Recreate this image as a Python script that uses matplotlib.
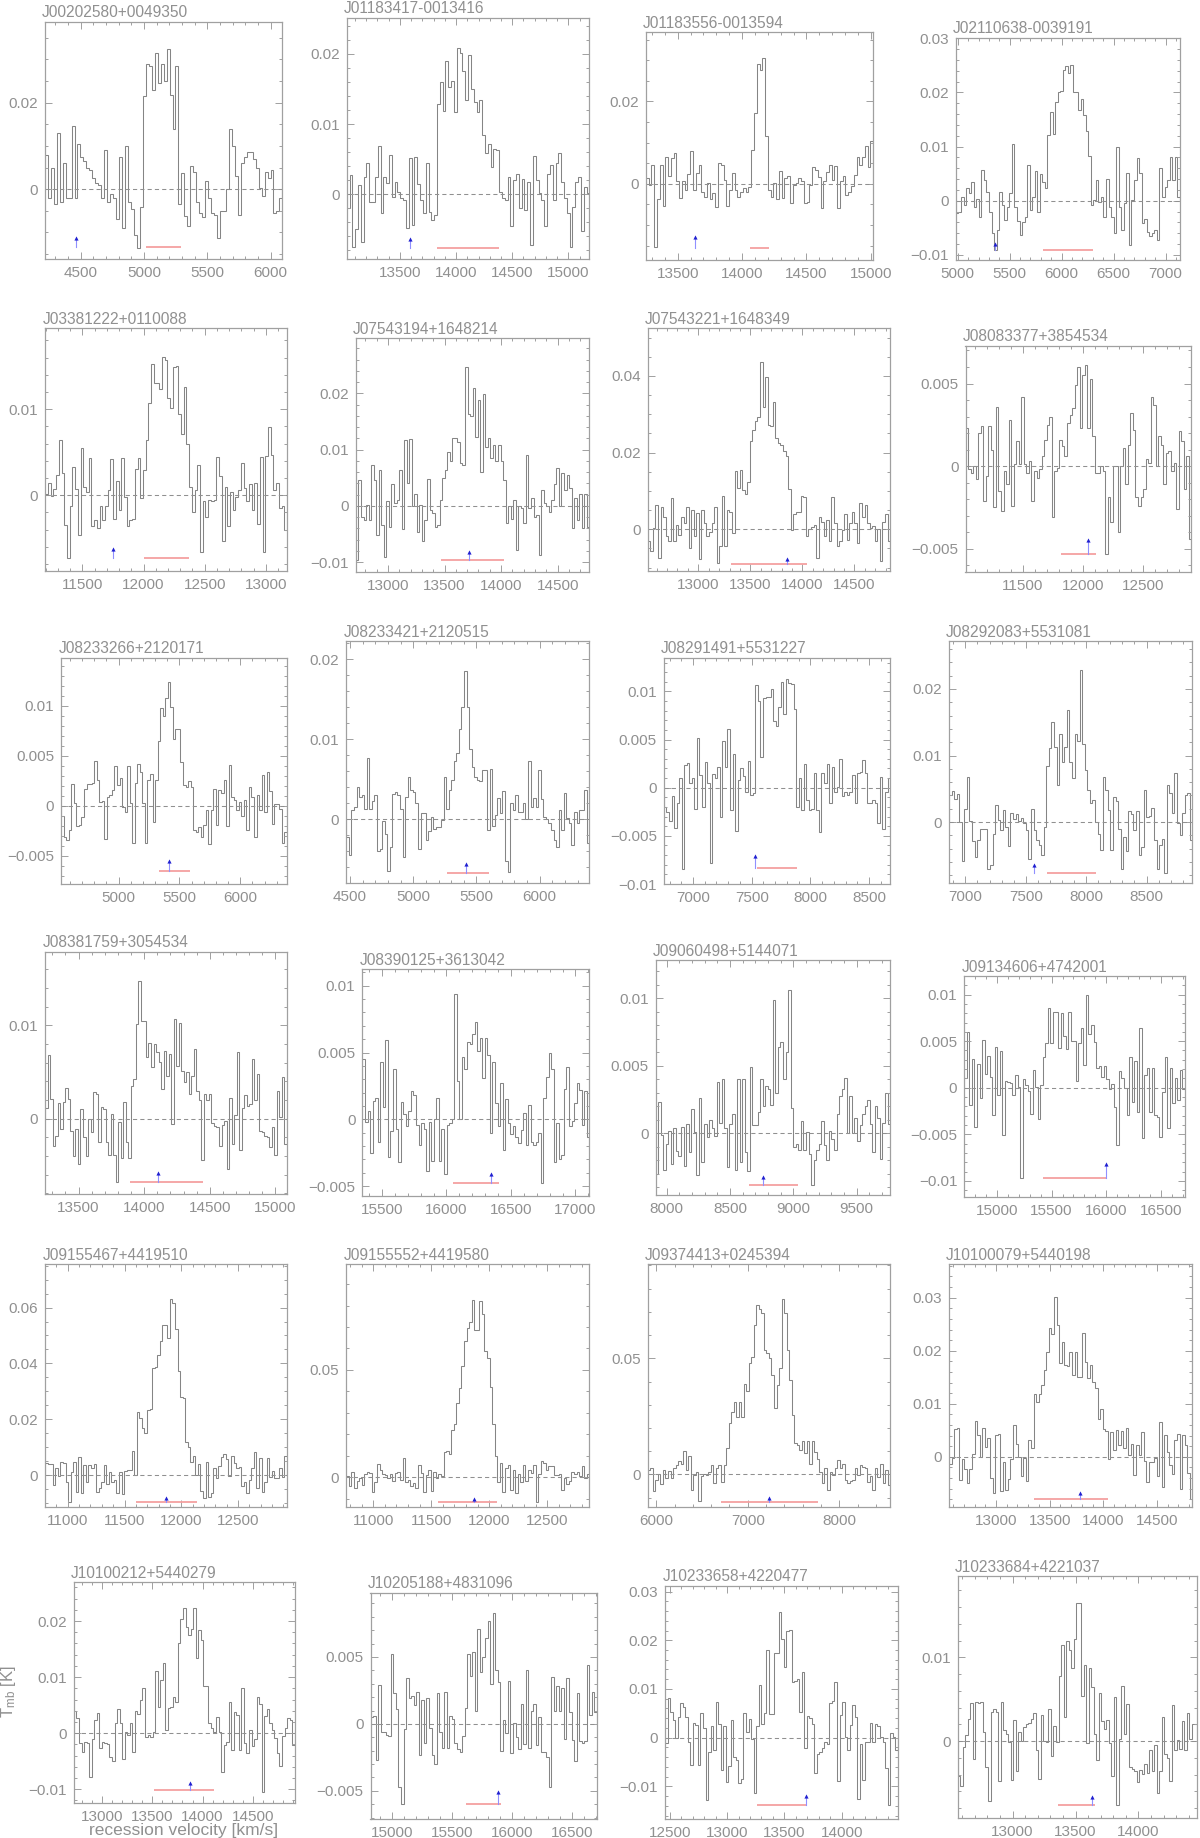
import numpy as np
import matplotlib
matplotlib.use('Agg')
import matplotlib.pyplot as plt
from matplotlib.ticker import MultipleLocator, FuncFormatter

# ---------------- data ----------------
names = ['J00202580+0049350', 'J01183417-0013416', 'J01183556-0013594', 'J02110638-0039191',
         'J03381222+0110088', 'J07543194+1648214', 'J07543221+1648349', 'J08083377+3854534',
         'J08233266+2120171', 'J08233421+2120515', 'J08291491+5531227', 'J08292083+5531081',
         'J08381759+3054534', 'J08390125+3613042', 'J09060498+5144071', 'J09134606+4742001',
         'J09155467+4419510', 'J09155552+4419580', 'J09374413+0245394', 'J10100079+5440198',
         'J10100212+5440279', 'J10205188+4831096', 'J10233658+4220477', 'J10233684+4221037']

# velocity range covered by each spectrum [km/s]
vel_lo = [4216, 13026, 13253, 4982, 11197, 12716, 12515, 11021, 4528, 4470, 6752, 6864,
          13246, 15348, 7911, 14703, 10801, 10769, 5908, 12561, 12723, 14818, 12460, 12565]
vel_hi = [6094, 15187, 15018, 7137, 13172, 14781, 14842, 12906, 6384, 6394, 8679, 8880,
          15088, 17108, 9764, 16717, 12932, 12863, 8556, 14832, 14914, 16707, 14487, 14465]

# T_mb per channel [mK]
spec01 = [8, -2, 5, -3.5, 13, -3, 6, -2, -2, 14.5, -2, 10.5, 7.5, 6.5, 5, 4.5, 2.5, 1.5, 1, -2,
          9, -3, -1, -2, -7, 7.5, -9, 10, -3, -4.5, -10.5, -13.5, -4, 21.5, 29, 28.5, 23, 31.5, 24.5, 29,
          25, 32.5, 21.8, 14, 28.5, -3.4, 3.7, -6.3, -8.5, 5.4, 4, -3, -5.5, -6.5, 2, -2, -5.5, -6, -11.3, -5,
          -5, 0, 14, 10, 3, -6, 6, 7.5, 8.5, 8.5, 7, 5, 0.3, -1.5, 4, 2.5, 4.5, -5.5, -5, -2]
spec02 = [-2, 2.7, -7.6, -5, 1.3, -6.8, 2.5, 4.4, -1.1, -1.1, 2.5, 6.9, -2.7, 2.5, 1.6, 5.6, -0.4, 1.7, 0.3, -0.6,
          -0.9, -4.9, 5.1, -4.4, 5.3, 1.5, -0.9, -2.7, 4.4, -2.5, -3.7, -3, 12.8, 16, 11.9, 19, 15.3, 16.2, 11.7, 20.9,
          20.2, 17.6, 13.4, 19.8, 15, 13.1, 11.7, 13.4, 8.5, 5.8, 7.1, 3.9, 6.5, 6.3, 0.3, -0.6, -0.8, 2.5, -4.6, 2,
          2.9, -2, 2.2, -2.3, 1.8, -7.3, 5.5, 2, 0.1, -0.9, -4.6, 2.9, 4.1, -0.9, 4.4, 5.8, 1.8, -0.6, -2.7, -7.6,
          -1.8, 1.8, 2.5, -5.2, 1, 0.1]
spec03 = [1.4, -0.2, 4.5, -15.4, -3.7, 4.5, -5.5, 6.5, 1.8, 6.2, 7.6, 0.6, -3.5, 0.6, -1.5, 2.3, 7.9, -1.5, 2.6, 4.6,
          -1.9, -3.1, 0.2, -3.7, -2.3, -5.7, 5, 4.6, 1, -5.5, -1.5, 2.6, -1.5, -3.2, -2.1, -1.1, -1.9, -0.8, 8.3, 17.2,
          29.1, 27.7, 30.5, 11.7, -1.6, -3.2, 0.2, -3.7, 3, -3.5, 1.4, 1.8, -4.7, -0.2, 0.2, 1.4, 0.6, -4.7, -4.5, -0.4,
          4.2, 3.4, 1.6, -5.9, 0.8, 2.8, 4.6, 1, 4.4, -5.9, 0.6, 1.8, -2.7, -1.9, -0.6, 2.2, 6.6, 4.6, 6.6, 9.1,
          4.2, 10.3]
spec04 = [-2.3, -2, 0.7, -0.8, 2.3, 1.4, 3.5, -1.1, 0.4, -3, 5.7, 3.8, 1.7, -2, -6, -9.1, -5.4, 1.7, -0.8, -3.6,
          -1.1, 1.4, 10.5, -1.1, -3.7, -6.3, -3.9, -3, 6.6, -1.8, 0.7, 5.4, -2, 4.9, 3.5, 2.3, 12.1, 16.3, 12.4, 18.3,
          20, 20.3, 24.2, 24.8, 23.5, 25.1, 20.1, 20.1, 16.8, 18.7, 15.8, 12.8, 8.3, -0.8, 0.1, 3.8, -0.2, 0.7, -3, 4.1,
          -1.1, -3, -6, 10, -1.1, -5.4, -0.4, 5.2, -8.2, 0.1, 3.8, 7.8, 5.1, -4.1, -3.3, -5.7, -6.5, -6, -5.4, -7.3,
          6, 0.7, 2.6, 3.9, 8.1, 3.8, 8.1, 0.7]
spec05 = [0.2, 1.4, -0.1, 0.7, 2.4, 6.4, 2.6, -3.4, -7.3, -1.3, 3.3, 0.7, -4.6, 5.5, 1, 0.4, 4.3, -3.6, -2.9, -3.8,
          -1.3, -2.9, -1.3, 0.6, 4.2, -2.8, 1.6, -1.7, 4.3, -0.2, -3.6, -2.9, -2.7, 3.1, 4.3, -0.3, 2.9, 6.4, 10.7, 15.2,
          13, 13, 12.3, 16.1, 15.7, 11.3, 10.1, 14.9, 15, 9.5, 7.1, 12.6, 5.9, 1, -1.9, 0.6, 3.5, -6.6, -0.7, -2.5,
          -0.6, -0.7, -0.5, 4.5, 2.2, -5.3, 1, -3.6, 0.4, -1.7, -0.2, 0.6, 3.7, 0.8, -0.7, 1.3, -1.7, 1.4, -3.3, 4.4,
          -6.6, 4.6, 7.9, 4.7, 0.6, 1.4, -1.5, -1.3, -4]
spec06 = [-9.6, 4.6, -1.9, -2.5, 0.2, -2.5, 7.3, 4.6, -5.1, 6.3, -3.4, -9, 0.8, -3.7, 3.9, 0.5, 1.1, 6.4, -4.1, 11.7,
          4, 11.9, -0.1, 2.2, -4.6, 0.2, -6.2, -2.5, 4.8, -0.7, -1.3, -3.8, -3.4, 1.1, 4.9, 6.3, 9.5, 7.9, 12, 12,
          11.4, 7.6, 7.3, 24.7, 16.4, 15.9, 20.9, 12.3, 18.8, 6.1, 19.9, 10.5, 12, 8.6, 10.8, 8, 10.8, 8, 4.6, -3.1,
          -0.1, -2.4, 1.1, -7.8, -0.1, -0.4, -3.1, 9.1, -0.4, 1.4, -1.9, -1.6, -8.7, 2.8, 0.5, -0.1, -1, 1.1, 3.9, 6.7,
          -0.1, 5.8, 2.8, 5.5, 3.1, -4, 1.4, -2.5, 2.2, -4, 2.1, -3.7]
spec07 = [-3, -5.6, 0.3, 6.3, -7.6, 5.9, 3.3, -1.9, -3, 8.1, -3.2, 1.1, -1.5, 3.3, 1.6, 5.7, -5, 5, -1.9, 4.3,
          -7.7, 5, 1.6, -1.9, -0.6, 1.6, 5.9, -8.9, -4.3, 8.7, -4.5, 5, 4.6, -0.9, 15.3, 10.7, 15.5, 10.3, 9.2, 12.4,
          22.9, 25.9, 28.1, 29.2, 43.7, 32, 39.7, 27.2, 26.8, 33.3, 23.7, 22.6, 22, 20.3, 19.1, 10.4, -0.2, 4, 4.6, 4.6,
          8.7, 8.3, -1.9, 0, 0.5, 1.1, -7.6, 3.3, 2, -1.9, 2.4, -3, 8.5, 1.6, -4.5, -3, -0.2, 4, -2.8, 1.6,
          4.6, 1.6, -3.5, 6.8, 3.3, 6.3, 1.6, 0.3, 0.9, -3.2, 0, -8.4, 2, 4, -3.2]
spec08 = [2.3, -0.2, -0.4, 0, -0.8, 2, 2.4, -2.1, -0.6, 2.4, 1, -2.5, 3.6, -1.5, -2.7, -0.3, -1.1, 2.8, -2.4, 0.1,
          1.5, 0.1, 4.2, 0.1, -0.4, 0.3, -2.1, -0.3, -0.7, -0.2, 0.6, 1.6, 2.5, 3, -3.1, -0.3, -0.1, 1.6, 1.2, 0.6,
          2.6, 3.1, 3.5, 4.9, 6, 2.3, 5.5, 6.1, 2.3, 5.3, 1.8, -0.4, -0.4, 0, -0.3, -5.3, -1.9, -3.4, 0, 0,
          -4, 0, 1.1, -1.1, 1.3, 3.2, 2.2, -1.9, -2.4, -1.9, -1.4, 0.4, 0.2, 4.2, 3.7, 0, 1.8, 1.3, -1.1, 0.8,
          0.9, -0.3, 0.2, -2.6, 2.1, 1.5, -1.4, 0.6, -4.4]
spec09 = [-1, -3.1, -3.4, -2.4, 2.2, 0.3, -2, -1.9, -1.1, 1.7, 2.2, 2.2, 2.3, 4.5, 2.6, 0.4, 0.5, -3.3, 0.9, 1.1,
          1.6, 4, 2.1, 2.8, -0.1, -0.6, 4, 0.3, -3.7, 2.3, 4.2, 3.4, 0.3, -3.7, 2.6, 3.2, -1.6, 2.6, 6.5, 9.8,
          9, 10.8, 12.4, 9.9, 6.7, 7.7, 7.7, 4.4, 2.1, 1.9, 2.5, 1.9, -2.4, -2.6, -2.1, -3.1, -1.9, -0.4, -3.8, -0.4,
          1.7, -1.9, 1.6, 1.3, 2.6, -2, 4.1, 0.9, 0.6, -0.4, 0.4, -1, 0.6, -2.4, 1.9, 0.9, -3.1, 1.1, -0.4, 3.1,
          -0.6, 3.4, 1.5, -1.8, 0.2, 0.2, -0.3, -3.7, -2.6]
spec10 = [-2.2, -4.5, 1.1, 1.5, 4, 2.8, 3, 1.3, 7.6, 1.3, 2.2, 3, -4, -3.8, -0.3, -1.9, -6.5, -3.5, 3.1, 3.4,
          3, 1.2, -4.7, 2.8, 5.3, 3.6, 3.4, 2, -3.8, 0.8, 0.7, -2.6, -1.5, 0.3, -1.3, -1, -1, -0.1, 5.3, 1.3,
          3.6, 4.9, 7.3, 8.3, 11.3, 14, 18.5, 14, 8.8, 6.5, 5.3, 4.9, 4.7, 6.1, 6.1, -1.4, 6.3, -0.9, 0.5, 2.6,
          0.8, 3.5, -5.2, -6.6, 2, 1.1, 3, 0.9, 0.9, 2, 0, 7.2, 1.5, 2.6, 1.5, 6.1, 2.5, 0.3, 0, -0.5,
          -1.4, -2.6, -3.5, 1.1, -1.4, 3.2, 0.1, -0.5, -3.3, 0.9, -0.5, 1.1, 1.1, 3.6, -3]
spec11 = [-2, -2.5, -3.5, -0.9, -4.2, -1.6, 1, -8.4, 2.4, 2.6, 0.5, 1, -2.2, 5.2, 1.3, -2, 2.7, 0.5, -7.8, 1.4,
          1, 2.2, -3, 4.8, 2.2, 6.1, -2.3, 3.5, -4.5, 0.8, 2, 1.2, -0.4, 2.8, -0.8, -0.6, 10.7, 9, 3.2, 9.3,
          9.4, 9.4, 10.2, 6.9, 6.4, 8.4, 11, 7.7, 11.3, 10.9, 10.8, 8.2, -2, 1, -2.3, 2.5, -1.3, -2.3, -2.2, 1.5,
          -2.3, -4.6, 1.5, 0.5, 2.5, -1.6, 2.2, -0.4, 0.1, 3, -0.9, -0.4, -0.8, -0.4, 1.3, -1.6, 1.5, 1.6, 2.9, 1.5,
          -1.6, -1.6, -1.3, -1.6, -3.7, 1.1, -4.3, -0.4, 1]
spec12 = [4.1, 4.6, 3.4, 4.2, 0, -5.8, 1.9, 6.7, 0.2, -2.8, -5.3, -2.7, -1, -1, -1, -7.1, -6.5, -1.8, 2.6, 0.3,
          -1.2, 1.8, -0.7, -3.6, 1.3, 0.4, 1.2, 0.2, 0.6, -0.2, -1.2, -5.6, 1.9, -1.2, -2.7, -3.5, -5, -0.7, 8.4, 11.2,
          15.1, 11.3, 5.6, 13.3, 9.1, 11.3, 16.9, 9.1, 6.6, 13.2, 12.2, 22.9, 11.7, 7.8, 4.8, 2.8, 3.3, 0, -1.8, -4.2,
          6.8, 4.8, 1.8, -4.2, 3.8, 3.2, -1, -7, -2.2, -4.3, 1.6, 1.2, -1.2, 1.6, -5, -3.8, 4.8, 0.8, 0.9, 2.1,
          -2.7, -7.1, -3.5, -2.5, -7.6, 5.6, 4.3, 1.3, 7.4, -0.2, -2, 1.4, 4.1, 4.3, -2.7]
spec13 = [1.1, 6.8, 2.1, -2.9, -1.9, 1.7, -1.1, 1.8, 3.3, 2.1, -1.3, -4, -1.1, -4.9, 1, -2, -4, 0, -1.4, 2.9,
          2.7, -2.5, 1.3, 1, -2.5, -3.9, 0.5, -3.9, -6.8, -0.4, -4.2, 1.8, -2.5, -4.2, 3.5, 4.3, 10.2, 14.8, 10.5, 10.5,
          6.6, 8.1, 5.5, 8, 7.2, 6.1, 3.2, 7.3, 4.6, 6.9, -0.6, 10.7, 5.7, 10.3, 5.1, 3.9, 5, 2.6, 4.6, 7.5,
          3, 2, -4.4, 2.7, 2, 2.7, -0.5, -0.8, -0.9, -2.9, -0.7, -0.2, -5.4, 2.2, -2.7, 0.4, 7.2, -3.4, 1.1, 2.5,
          1.4, 1.6, 6.4, 2, 4.8, -1.3, -1.4, -1.8, -2, -3, -0.9, -3.9, 3, 0.2, 4.5, -2.7]
spec14 = [4.5, -0.2, 0.6, -2.5, 1.4, 1.6, -1.7, 4.3, 0.9, 5.9, -2.8, -0.9, 3.8, -0.7, -3.2, 1.3, 0.4, -0.5, 0.6, 2.1,
          1.8, -0.4, -1.9, -0.3, -0.7, -3.9, -0.2, -3.1, 0, 1.6, -3.1, -0.7, -4.1, -0.4, -0.3, 0, 9.4, 2.9, 0, 4.7,
          3.8, 5.8, 5.6, 6.4, 7.3, 5.1, 6.1, 3.1, 6.1, 4.8, -1, 4.3, 1.2, -0.5, 2.7, -2.3, 1.5, -0.3, -1.1, -0.5,
          -1.3, -1.8, -0.8, 0.5, -1.9, 1.1, -1.7, -1.9, -1.7, -1, -4.8, 1.6, 3.2, 5, 3.8, -3.2, -0.3, -3, -2.7, 2.3,
          3.9, -0.5, -0.1, 1.2, 2.7, 2.2, -0.4, 2.1, -1.3]
spec15 = [-3, 2.3, -0.1, -2.7, -0.8, 0.2, -2.3, 0.4, -1.3, -1.7, 0.5, -2.4, 0.7, -1.4, 1.8, 0.1, -3.1, 2.6, -2.1, 0.7,
          -0.3, 1, 0.4, -0.2, 3.8, 0.8, 4, 0.4, -2.5, 0.7, 1.4, -2.7, 4, -2.1, 4, -1.4, -2.8, 4.9, 0.6, 0.6,
          1.6, 4, 2, 3.5, 3.3, 2.1, 9.9, 3, 6.4, 6.8, 4, 6, 10.6, 1.9, -1, -0.8, -1.2, 0.9, -1.2, 0.1,
          -1.5, -3.8, -2, -1.2, -0.8, 0.9, -0.9, -2, 0.2, -0.4, -1.2, 1.4, 2.8, 3.3, 4.1, 0, 2.8, 0, 1.1, -0.6,
          0.6, 1.4, 2, 2.5, 0.7, -1.4, 2, 1.1, -1.9, 0.8, 3, 0.7]
spec16 = [1.1, 6, -1.9, 3.1, -4.2, 2.5, -1.1, 5.1, 1.5, 3.4, 1.2, -2.9, 4.4, -0.8, 3.9, -5.1, 0.7, 0.6, 0.5, -0.8,
          1.4, 0.1, -9.7, 0.9, 0.3, -0.4, -2.8, 1.9, 0.1, -3.4, 0.3, 3.3, 4.8, 8.6, 4.8, 8.1, 8.1, 4.3, 8, 5.6,
          4.2, 8.1, 5, 5, 0.7, 4.8, 6.4, 2.4, 10, 5.8, 6.7, 4.9, 2.1, 2.3, 1.2, 2.3, 0.9, -0.1, 0.4, -2.1,
          -6.1, 1.8, 1.1, 0, -2.9, 3.3, -1.5, 2.9, -2.6, 6.4, -5.4, 1.4, 2.1, -2.6, 2.1, -2.9, -3.1, -5.3, -0.5, 3.3,
          -4.3, 2.1, -1.6, 1, -1.3, 1.9, -0.1]
spec17 = [4.2, 3.8, 3.8, -3.6, 2.4, -0.2, 4.5, 4.2, -2.4, -9.6, 1.2, 4.8, -6, 6.6, -6.6, 3.6, -2.4, 3.6, 2.4, 3.8,
          -6, -4.5, -2.4, 3.6, -3.3, 1.2, -2.6, -1.8, -6.6, 1.2, -6.9, 1.4, 1.8, 1.8, 8.6, 0, 22.7, 20.5, 16.7, 14.9,
          23.3, 23.7, 38.2, 38.8, 43, 48, 53.8, 53.8, 49.2, 63.1, 61.5, 52.3, 37.3, 28.1, 27.5, 11.7, 10.2, 4.8, 6.9, 0,
          3.8, -5.7, -8.4, 4.8, -7.8, -6.6, 2.4, -1, 3.3, 6.6, 7.4, 5.7, -0.2, 6.9, 4.2, 2.4, 3, -3.8, -2.4, -6.6,
          -1.8, 2.4, 8.4, -4.5, 6.2, -6, -2.4, 6.2, -0.6, 1.4, -1.2, -1.2, 2.4, -0.6, 6.9]
spec18 = [0.8, -3.9, 2.6, -4.8, -1.7, -0.5, -3.6, 1.4, 2.3, 1.9, -7, -2, 6.1, 3.4, 1.4, 1.1, -0.2, 1.4, -1.7, 1.9,
          2.3, -1.2, 8.9, -2, -1.2, -3.9, -2.8, -4.8, 5.7, 1.9, -7, 1.1, 3.4, -6.4, 2.6, -0.2, 1.4, 0.8, 12, 12.3,
          10.7, 22, 24.7, 34.5, 41.8, 51.6, 63.5, 69.7, 72.5, 82.6, 68.6, 68.6, 82.1, 75.9, 58.9, 55.7, 42.2, 24.7, 10.1, -2,
          6.5, -7, 4.2, 5.7, -5.9, 3.4, -7.5, 1.4, -2, 5.7, -1.7, 3.4, 1.9, 5.7, -11.3, 1.4, 7.6, 6.5, 3.4, 5.4,
          5.4, 1.1, 1.1, 1.4, -5.9, -0.5, -3.3, -1.7, 2.3, 1.4, 2.3, 0.8, 5.4, -0.2, 1.4]
spec19 = [1.9, 2.6, -7.2, -2.4, 0, -4.3, 1.9, -1.4, 1.4, -1.7, 2.6, 4, 5.7, 4.7, 10.1, 1.9, 8, -6.8, -0.3, 0.9,
          -11.5, -0.6, 0, -0.3, 1.1, 4, -3.9, 2.6, 4, -3.2, 4, 11.2, 22, 27, 31.3, 24.9, 31.3, 24.9, 38.8, 35.9,
          47.8, 50.7, 64.4, 73, 71.3, 69.4, 53.6, 52.2, 50.3, 42.8, 28.7, 38.5, 45.7, 75.6, 69.4, 53.6, 40.7, 25.6, 13.4, 12.6,
          10.5, 14.4, 9.1, 14.4, 4.7, 14.4, 9.8, 6.6, 0.9, -3.9, 2.6, -6.8, 1.1, -0.3, 2.6, 6.2, 2.6, 4.7, -2.4, -3.9,
          -2.9, -2.4, 2.6, -0.3, 4, 3.3, 2.6, -3.2, -0.6, -6.8, 2.6, -1, 4.3, -3.9, 1.9, -4.6]
spec20 = [-1.4, -0.2, 5.3, 5.5, -4.4, -0.4, -2.2, -5, -2.2, 0.6, 6.7, 4.1, 0, 5.5, 1.9, 3.5, -4, -6.9, 4.1, 4.3,
          -6.5, -0.9, -6.3, -4.1, -0.4, 6, 2.5, 0, -3.6, -0.2, -4.6, 3.1, 1.6, 11.9, 10.4, 11.9, 13.6, 16.4, 19.8, 24.3,
          23.1, 30.2, 24.8, 17.6, 21.6, 17.3, 17.2, 19.7, 15.5, 19.8, 15.1, 15.1, 23.3, 17.9, 14.8, 17.3, 14.2, 12.9, 7.2, 9.1,
          5.3, 4.8, -0.4, 4.7, 1.3, 5, 2.2, 4.8, 1.6, 5.5, 0.4, 2.5, -3.5, 2.2, 0.3, 4.7, -0.8, -4.7, -0.9, -0.9,
          -0.3, -3.6, 6.6, -5.7, 4.1, 0.9, -1.6, -3.3, 3.1, 4.4, -6, 4.1, 2.3, -3.1, -7.9]
spec21 = [3.9, 2.7, -1.7, -3.3, -1.5, -1.7, -7.8, -1.1, 2.4, 3.6, -2.7, -1.5, -1.7, -1.9, -4.2, -4.9, 1.8, 4.3, 1.8, -4.6,
          0.3, -0.3, 1.9, -3.4, 4, 3.4, 5.9, 8, -0.7, -0.3, -0.7, 0.3, 11, 4.7, 9.5, 12.5, 0.6, 4.5, 4.7, 6.5,
          5.6, 16.1, 20.3, 22.3, 18.9, 17.5, 18.5, 22.4, 13.4, 18.4, 16.6, 8.4, 8.4, 1.8, 0.9, 0.3, 2.8, 0.3, -7, -2.1,
          -1.5, 5.6, -3, 3.7, 3.3, -3, 8, -1.8, -3.6, 0.6, -2.3, -1.1, 6.5, 5.2, -10.4, 3, 4.3, 1.9, 0.6, -0.9,
          -3.6, -5.8, -0.5, 0.9, 2.7, 2.4, -2.1]
spec22 = [0.5, 0.6, -2.7, 2.9, -0.6, -0.6, -0.8, -0.9, 5.2, 2.3, 1.1, -4.7, -6, -0.4, 3.4, 1.9, 2.1, 1.4, 2.4, -2.3,
          1.8, -1.4, 1.9, -0.3, -2.3, -3, 2.3, -0.6, -1.8, 2.4, -1.8, 0.6, 0.4, -1.4, -1.9, -2.1, -0.9, 1.2, 5.2, 3.6,
          5.4, 1, 7.1, 3.9, 5, 6.4, 7.7, 3, 8.3, 4, 3.1, -2, 0.3, -0.7, 3.2, -2.2, 0.1, -1, -1.9, 1.5,
          -1.5, 4, -1.8, 1, 1.5, -1.6, 0.5, -2.1, -2.1, -2.5, -4.7, 3.5, 1, 2.8, 1, 2.7, -1.1, 3.4, 0.9, -1.2,
          -2.8, 2.3, -1.3, -1.4, -1.3, 4.4, 0.7, 2.4, 0.9]
spec23 = [-1, 8.1, 5.3, 3.6, -0.1, 4.3, 7.2, 6.2, 4.3, -0.8, -5.6, 3.1, 2.6, -5.6, 5.1, 1.9, -12.7, -2.9, 2.3, -2.5,
          7.4, 2.9, -6.6, 2.4, -9.2, -5.8, 3.6, -3.9, -4.6, -9.4, -8.4, 5, 1.2, 3.8, -0.3, -11.4, 2.3, 10.8, 2.9, 5.1,
          18, 4.9, 4.9, 17.3, 17.3, 25.9, 20.2, 14.6, 21.8, 22.1, 11.5, 11.7, 12, 5.3, 13.4, -2.2, 4.5, 4, 2.9, -7.2,
          -3.4, -2.9, -2.2, -0.8, -1.2, 7.1, 7.6, 11.5, -8.8, 4.7, 7.4, 0.2, -2.5, 2.6, 6.7, 4.3, -12.5, -1.2, -8.7, -0.8,
          -0.8, 3.1, -0.8, 2.9, 2.3, 0.2, -0.8, -6.3, -13.8, 1, 0.2, -2.5]
spec24 = [-4.1, -5.3, -0.7, 0.7, 2.7, 4.6, -2.1, 4.7, 4.6, 4.7, 1.1, -3.1, -7.1, 3.5, 3.8, 3.5, -4.7, 4.7, 1.3, 0.8,
          -0.1, -4.6, 2.5, -3.5, 1.1, 0, 1.7, 2, 2.2, 2.6, 3.4, -1.1, -4.5, 3.1, 0, -0.1, 3.8, -1.8, 1.8, -0.1,
          7.8, 11.5, 2.9, 12, 10.9, 8.7, 12.2, 16.5, 16.5, 5.4, 9.1, -0.2, 8.7, 6.5, 0.9, -2.2, 5.7, 2.4, 1.5, 2.5,
          -0.2, -4.1, 5.3, -7.6, 0.3, 6.6, 0.9, 4.4, -3.1, -3.3, -3.5, -4.9, -3.4, -3.9, -2.7, -3.8, -1.1, -3.5, -0.5, -6.2,
          -3.5, 2.9, -1.5, -2, -4.7, 4.3, -1.1, 0.1, -0.9, 2.4, -1, 3.3, 0.3, 2.1, 2.1]

spectra = [spec01, spec02, spec03, spec04, spec05, spec06, spec07, spec08, spec09, spec10, spec11, spec12,
           spec13, spec14, spec15, spec16, spec17, spec18, spec19, spec20, spec21, spec22, spec23, spec24]

# optical velocity range (red bar) [km/s] and its level [mK]
bar_lo = [5014, 13827, 14061, 5822, 12000, 13467, 13312, 11819, 5330, 5267, 7545, 7672,
          13891, 16048, 8646, 15424, 11600, 11560, 6703, 13357, 13516, 15616, 13260, 13360]
bar_hi = [5290, 14378, 14210, 6301, 12375, 14022, 14048, 12113, 5588, 5597, 7887, 8078,
          14445, 16410, 9038, 15997, 12140, 12071, 7770, 14046, 14116, 15909, 13687, 13655]
bar_lev = [-13.4, -7.7, -15.5, -9.1, -7.3, -9.7, -9.0, -5.35, -6.5, -6.7, -8.3, -7.6,
           -6.8, -4.8, -3.8, -9.7, -9.6, -11.3, -11.8, -7.9, -10.2, -6.0, -13.8, -7.6]
# arrow (blue): velocity and tip level [mK]
arrow_v = [4460, 13592, 13637, 5361, 11753, 13714, 13849, 12043, 5418, 5415, 7528, 7571,
           14109, 16345, 8757, 15997, 11863, 11873, 7238, 13786, 13877, 15878, 13687, 13631]
arrow_tip = [-11.3, -6.4, -13.0, -7.9, -6.2, -8.2, -7.8, -4.5, -5.5, -5.6, -7.1, -6.5,
             -5.8, -4.1, -3.2, -8.2, -8.4, -10.1, -10.3, -6.8, -8.9, -5.1, -12.0, -6.6]

# y limits [mK] and y tick step [K]
y_lo = [-16.2, -9.3, -18.5, -11.0, -8.8, -11.7, -10.9, -6.4, -7.83, -7.96, -10.0, -9.1,
        -8.1, -5.74, -4.57, -11.7, -11.35, -13.7, -13.9, -9.4, -12.5, -7.1, -16.7, -9.2]
y_hi = [38.7, 25.2, 36.8, 30.1, 19.4, 29.8, 52.4, 7.29, 14.8, 22.25, 13.5, 27.2,
        17.9, 11.25, 12.84, 12.0, 75.5, 99.2, 90.5, 36.3, 26.9, 9.8, 31.2, 19.7]
y_step = [0.02, 0.01, 0.02, 0.01, 0.01, 0.01, 0.02, 0.005, 0.005, 0.01, 0.005, 0.01,
          0.01, 0.005, 0.005, 0.005, 0.02, 0.05, 0.05, 0.01, 0.01, 0.005, 0.01, 0.01]

# ---------------- layout (pixel boxes: left, top, right, bottom) ----------------
W, H = 1200, 1838
boxes = [
    (44.8, 21.7, 282.4, 259.3), (346.7, 17.5, 589.4, 259.3), (645.9, 32.3, 873.2, 260.0), (955.9, 37.7, 1179.8, 260.3),
    (45.2, 328.3, 287.0, 571.0), (355.9, 338.3, 589.4, 571.7), (647.8, 328.3, 890.1, 571.0), (965.5, 345.7, 1191.3, 571.7),
    (61.2, 657.7, 287.0, 884.0), (346.3, 641.0, 589.4, 882.7), (663.9, 657.7, 890.1, 884.0), (949.0, 641.0, 1192.4, 882.7),
    (45.2, 951.7, 287.0, 1194.3), (362.4, 969.0, 589.4, 1196.0), (655.5, 960.0, 890.1, 1195.0), (964.3, 976.0, 1184.8, 1196.7),
    (45.2, 1264.3, 287.0, 1506.7), (346.3, 1264.3, 589.4, 1506.7), (647.8, 1264.3, 890.1, 1506.7), (949.0, 1264.3, 1192.4, 1506.7),
    (73.9, 1582.3, 294.7, 1803.3), (370.5, 1592.7, 597.0, 1819.0), (665.1, 1585.7, 897.7, 1819.0), (957.8, 1576.0, 1197.0, 1818.3),
]

GREY = '#909090'
LINE = '#858585'
plt.rcParams['font.family'] = ['Liberation Sans', 'DejaVu Sans']
plt.rcParams['mathtext.fontset'] = 'custom'
plt.rcParams['mathtext.rm'] = 'Liberation Sans'
plt.rcParams['mathtext.it'] = 'Liberation Sans'

minor_of = {0.05: 0.01, 0.02: 0.005, 0.01: 0.002, 0.005: 0.001}


def yfmt(v, pos):
    if abs(v) < 1e-9:
        return '0'
    return ('%g' % round(v, 4)).replace('-', '\u2212')


fig = plt.figure(figsize=(W / 100, H / 100), dpi=100)

for i, (x0, y0, x1, y1) in enumerate(boxes):
    ax = fig.add_axes([x0 / W, 1 - y1 / H, (x1 - x0) / W, (y1 - y0) / H])
    vals = np.array(spectra[i]) / 1000.0
    edges = np.linspace(vel_lo[i], vel_hi[i], len(vals) + 1)
    ax.stairs(vals, edges, color=LINE, lw=0.75)
    ax.axhline(0, color=GREY, lw=0.75, ls=(0, (4, 3)))
    ax.plot([bar_lo[i], bar_hi[i]], [bar_lev[i] / 1000] * 2, color='#f4a0a0', lw=1.3, solid_capstyle='butt')
    ax.plot([arrow_v[i]] * 2, [bar_lev[i] / 1000, arrow_tip[i] / 1000], color='#9090ff', lw=0.8)
    ax.plot([arrow_v[i]], [arrow_tip[i] / 1000], marker='^', ms=3.0, color='#2020d0', mec='none')

    ax.set_xlim(vel_lo[i], vel_hi[i])
    ax.set_ylim(y_lo[i] / 1000, y_hi[i] / 1000)
    xstep = 1000 if i == 18 else 500
    ax.xaxis.set_major_locator(MultipleLocator(xstep))
    ax.xaxis.set_minor_locator(MultipleLocator(xstep / 5))
    ax.yaxis.set_major_locator(MultipleLocator(y_step[i]))
    ax.yaxis.set_minor_locator(MultipleLocator(minor_of[y_step[i]]))
    ax.yaxis.set_major_formatter(FuncFormatter(yfmt))
    ax.tick_params(which='both', direction='in', top=True, right=True, color='#a0a0a0',
                   labelcolor=GREY, labelsize=11, width=0.7)
    ax.tick_params(which='major', length=5, pad=5)
    ax.tick_params(which='minor', length=2.5)
    for s in ax.spines.values():
        s.set_color('#a0a0a0')
        s.set_linewidth(0.9)
    ax.annotate(names[i], xy=(0, 1), xycoords='axes fraction', xytext=(-2, 1),
                textcoords='offset points', ha='left', va='bottom', fontsize=11.2, color=GREY)

fig.text(8 / W, 1 - 1692 / H, r'T$_{\rm mb}$ [K]', rotation=90, ha='center', va='center',
         fontsize=12, color=GREY)
fig.text(184 / W, 1 - 1831 / H, 'recession velocity [km/s]', ha='center', va='center',
         fontsize=12.5, color=GREY)

fig.savefig('out.png', dpi=100)
